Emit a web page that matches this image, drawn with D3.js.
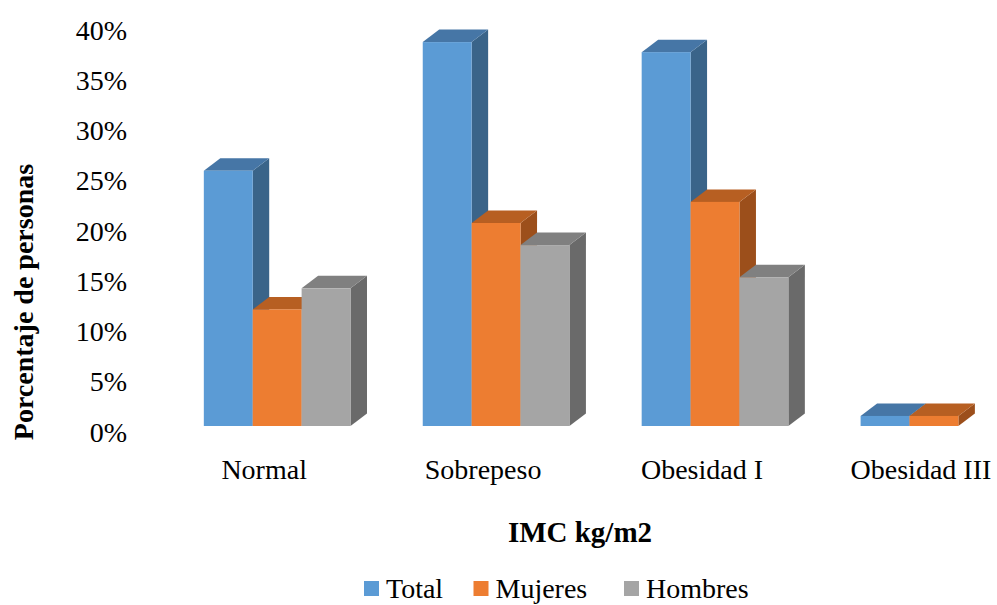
<!DOCTYPE html>
<html>
<head>
<meta charset="utf-8">
<script src="https://cdn.jsdelivr.net/npm/d3@7/dist/d3.min.js"></script>
<style>
  html, body { margin: 0; padding: 0; background: #fff; }
  svg { display: block; }
  svg text { font-family: "Liberation Serif", "Times New Roman", "DejaVu Serif", serif !important; }
</style>
</head>
<body>
<svg id="chart" width="997" height="605"></svg>
<script>
// Body-mass-index groups and share of people in each (fractions)
const categories = ["Normal", "Sobrepeso", "Obesidad I", "Obesidad III"];
const seriesNames = ["Total", "Mujeres", "Hombres"];
const totalValues   = [0.254, 0.382, 0.372, 0.010];
const mujeresValues = [0.116, 0.202, 0.223, 0.010];
const hombresValues = [0.137, 0.180, 0.148, 0.000];
const yTicks = [0, 0.05, 0.10, 0.15, 0.20, 0.25, 0.30, 0.35, 0.40];

const seriesValues = [totalValues, mujeresValues, hombresValues];

// Face colours for the 3-D columns: front, top, side
const palette = {
  Total:   { front: "#5B9BD5", top: "#4676A6", side: "#3A6489" },
  Mujeres: { front: "#ED7D31", top: "#B75F22", side: "#9C4F1B" },
  Hombres: { front: "#A5A5A5", top: "#808080", side: "#6A6A6A" }
};

const svg = d3.select("#chart");

// Depth offset of the extruded columns
const depthX = 16.5, depthY = 12.5;

const x = d3.scaleBand()
  .domain(categories)
  .range([167.7, 1043.4])
  .paddingInner(0.33)
  .paddingOuter(0.165);

const xInner = d3.scaleBand()
  .domain(seriesNames)
  .range([0, x.bandwidth()]);

const y = d3.scaleLinear()
  .domain([0, 0.40])
  .range([426, 24]);

// Value axis labels
const yAxis = d3.axisLeft(y)
  .tickValues(yTicks)
  .tickFormat(d3.format(".0%"))
  .tickSize(0)
  .tickPadding(0);

const yAxisG = svg.append("g")
  .attr("transform", "translate(127,0)")
  .call(yAxis)
  .attr("font-family", null)
  .attr("font-size", null);
yAxisG.select(".domain").remove();
yAxisG.selectAll("text")
  .attr("font-size", 28)
  .attr("fill", "#000")
  .attr("dy", null)
  .attr("x", 0)
  .attr("y", 15);

// Columns, drawn left to right so later faces overlap earlier sides
const bars = [];
categories.forEach((cat, ci) => {
  seriesNames.forEach((name, si) => {
    bars.push({ cat, name, value: seriesValues[si][ci] });
  });
});

const barG = svg.append("g");
bars.filter(d => d.value > 0).forEach(d => {
  const x0 = x(d.cat) + xInner(d.name);
  const x1 = x0 + xInner.bandwidth();
  const yTop = y(d.value);
  const yBot = y(0);
  const c = palette[d.name];
  const g = barG.append("g");
  // side face
  g.append("polygon")
    .attr("points", [[x1, yTop], [x1 + depthX, yTop - depthY], [x1 + depthX, yBot - depthY], [x1, yBot]].join(" "))
    .attr("fill", c.side);
  // top face
  g.append("polygon")
    .attr("points", [[x0, yTop], [x0 + depthX, yTop - depthY], [x1 + depthX, yTop - depthY], [x1, yTop]].join(" "))
    .attr("fill", c.top);
  // front face
  g.append("rect")
    .attr("x", x0)
    .attr("y", yTop)
    .attr("width", x1 - x0)
    .attr("height", yBot - yTop)
    .attr("fill", c.front);
});

// Category labels
svg.append("g")
  .selectAll("text")
  .data(categories)
  .join("text")
  .attr("x", d => x(d) + x.bandwidth() / 2 - 13)
  .attr("y", 479)
  .attr("text-anchor", "middle")
  .attr("font-size", 28)
  .attr("fill", "#000")
  .text(d => d);

// Axis titles
svg.append("text")
  .attr("x", 580)
  .attr("y", 542)
  .attr("text-anchor", "middle")
  .attr("font-size", 29)
  .attr("font-weight", "bold")
  .attr("fill", "#000")
  .text("IMC kg/m2");

svg.append("text")
  .attr("transform", "translate(33,302) rotate(-90)")
  .attr("text-anchor", "middle")
  .attr("font-size", 28)
  .attr("font-weight", "bold")
  .attr("fill", "#000")
  .text("Porcentaje de personas");

// Legend
const legendX = [364, 473.5, 624];
const legend = svg.append("g")
  .selectAll("g")
  .data(seriesNames)
  .join("g")
  .attr("transform", (d, i) => `translate(${legendX[i]},581)`);
legend.append("rect")
  .attr("width", 15)
  .attr("height", 15)
  .attr("fill", d => palette[d].front);
legend.append("text")
  .attr("x", 22)
  .attr("y", 17)
  .attr("font-size", 28)
  .attr("fill", "#000")
  .text(d => d);
</script>
</body>
</html>
